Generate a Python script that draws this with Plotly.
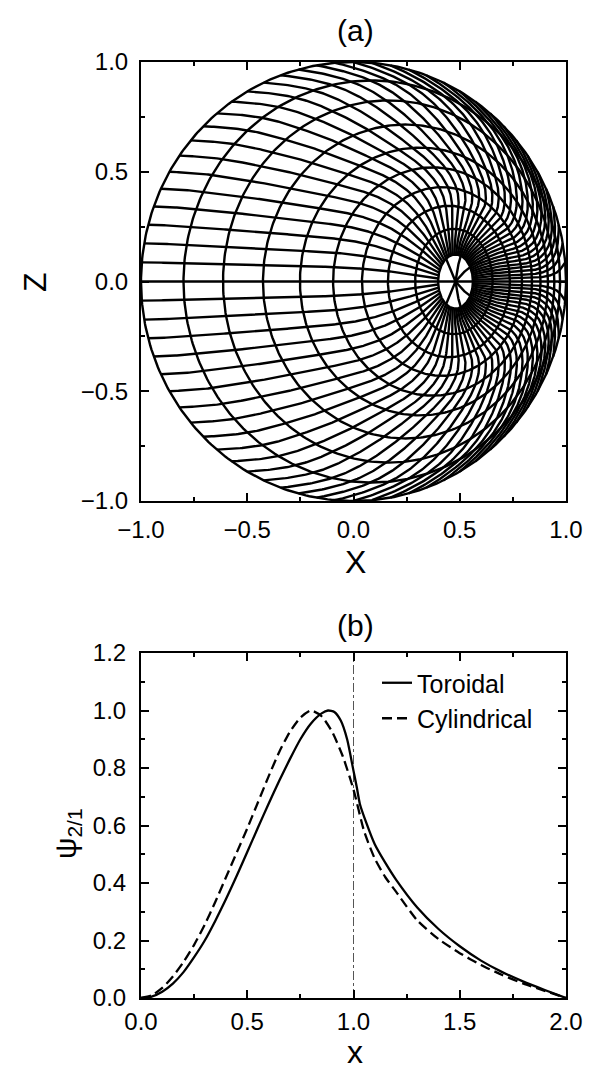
import numpy as np
import plotly.graph_objects as go

# ---------------- Panel (a): coordinate grid ----------------
# flux-surface label s (axis + 10 surfaces)
surface_label = [0.0, 0.1, 0.2, 0.3, 0.4, 0.5, 0.6, 0.7, 0.8, 0.9, 1.0]
# X where each surface crosses Z=0 on the inboard (left) and outboard (right) side
surface_left_X = [0.48, 0.398, 0.29, 0.162, 0.04, -0.096, -0.252, -0.426, -0.614, -0.80, -1.0]
surface_right_X = [0.48, 0.562, 0.655, 0.736, 0.793, 0.84, 0.88, 0.915, 0.945, 0.972, 1.0]
# half height of each surface
surface_top_Z = [0.0, 0.123, 0.24, 0.345, 0.43, 0.52, 0.61, 0.715, 0.825, 0.916, 1.0]
# poloidal-angle twist of each surface, inboard and outboard
twist_in = [0.2, 0.3, 0.45, 0.55, 0.55, 0.45, 0.32, 0.2, 0.1, 0.05, 0.0]
twist_out = [0.2, 0.3, 0.42, 0.52, 0.6, 0.64, 0.64, 0.6, 0.52, 0.34, 0.0]
# poloidal angles of the coordinate lines (deg)
theta_deg = list(range(0, 360, 5))
theta_to_axis_every = 45

# ---------------- Panel (b): eigenfunctions ----------------
x_tor = [0, 0.05, 0.1, 0.15, 0.2, 0.25, 0.3, 0.35, 0.4, 0.45, 0.5, 0.55, 0.6, 0.65,
         0.7, 0.75, 0.8, 0.85, 0.88, 0.91, 0.94, 0.97, 1.0, 1.015, 1.03, 1.06, 1.1,
         1.15, 1.2, 1.3, 1.4, 1.5, 1.6, 1.7, 1.8, 1.9, 2.0]
psi_tor = [0, 0.005, 0.022, 0.05, 0.09, 0.142, 0.2, 0.269, 0.344, 0.424, 0.508, 0.592,
           0.675, 0.755, 0.83, 0.9, 0.955, 0.99, 1.0, 0.995, 0.965, 0.9, 0.79, 0.735,
           0.675, 0.61, 0.535, 0.47, 0.412, 0.315, 0.24, 0.18, 0.13, 0.09, 0.057,
           0.028, 0.0]
x_cyl = [0, 0.05, 0.1, 0.15, 0.2, 0.25, 0.3, 0.35, 0.4, 0.45, 0.5, 0.55, 0.6, 0.65,
         0.7, 0.75, 0.8, 0.85, 0.9, 0.95, 1.0, 1.05, 1.1, 1.15, 1.2, 1.3, 1.4, 1.5,
         1.6, 1.7, 1.8, 1.9, 2.0]
psi_cyl = [0, 0.009, 0.035, 0.075, 0.125, 0.185, 0.255, 0.335, 0.42, 0.505, 0.59, 0.68,
           0.77, 0.855, 0.925, 0.975, 1.0, 0.98, 0.925, 0.84, 0.725, 0.58, 0.485, 0.42,
           0.37, 0.27, 0.205, 0.156, 0.115, 0.08, 0.05, 0.025, 0.0]
rational_x = 1.0

FONT = "Liberation Sans, Arial, Helvetica, sans-serif"


def natural_spline(xk, yk, xq):
    xk = np.asarray(xk, float)
    yk = np.asarray(yk, float)
    n = len(xk)
    h = np.diff(xk)
    A = np.zeros((n, n))
    rhs = np.zeros(n)
    A[0, 0] = 1.0
    A[-1, -1] = 1.0
    for i in range(1, n - 1):
        A[i, i - 1] = h[i - 1]
        A[i, i] = 2 * (h[i - 1] + h[i])
        A[i, i + 1] = h[i]
        rhs[i] = 3 * ((yk[i + 1] - yk[i]) / h[i] - (yk[i] - yk[i - 1]) / h[i - 1])
    c = np.linalg.solve(A, rhs)
    b = (yk[1:] - yk[:-1]) / h - h * (2 * c[:-1] + c[1:]) / 3
    d = (c[1:] - c[:-1]) / (3 * h)
    xq = np.asarray(xq, float)
    idx = np.clip(np.searchsorted(xk, xq) - 1, 0, n - 2)
    dx = xq - xk[idx]
    return yk[idx] + b[idx] * dx + c[idx] * dx ** 2 + d[idx] * dx ** 3


sl = np.array(surface_left_X)
sr = np.array(surface_right_X)
cen = (sl + sr) / 2
half_w = (sr - sl) / 2
half_h = np.array(surface_top_Z)


def geom(s, th):
    c = natural_spline(surface_label, cen, s)
    a = natural_spline(surface_label, half_w, s)
    b = natural_spline(surface_label, half_h, s)
    gi = natural_spline(surface_label, twist_in, s)
    go_ = natural_spline(surface_label, twist_out, s)
    g = gi * (1 - np.cos(th)) / 2 + go_ * (1 + np.cos(th)) / 2
    phi = th - g * np.sin(th)
    return c + a * np.cos(phi), b * np.sin(phi)


gx, gy = [], []
# flux surfaces
ph = np.linspace(0, 2 * np.pi, 361)
for k in range(1, len(surface_label)):
    gx += list(cen[k] + half_w[k] * np.cos(ph)) + [None]
    gy += list(half_h[k] * np.sin(ph)) + [None]
# poloidal-angle lines
for td in theta_deg:
    th = np.deg2rad(td)
    s0 = 0.0 if td % theta_to_axis_every == 0 else surface_label[1]
    s = np.linspace(s0, 1.0, 220)
    X, Z = geom(s, th)
    gx += list(X) + [None]
    gy += list(Z) + [None]

fig = go.Figure()
fig.add_trace(go.Scatter(x=gx, y=gy, mode="lines", line=dict(color="black", width=2.4),
                         showlegend=False, hoverinfo="skip", xaxis="x", yaxis="y"))

fig.add_trace(go.Scatter(x=x_tor, y=psi_tor, mode="lines", name="Toroidal",
                         line=dict(color="black", width=2.3, shape="spline", smoothing=0.6),
                         xaxis="x2", yaxis="y2"))
fig.add_trace(go.Scatter(x=x_cyl, y=psi_cyl, mode="lines", name="Cylindrical",
                         line=dict(color="black", width=2.3, dash="10px,5px", shape="spline", smoothing=0.6),
                         xaxis="x2", yaxis="y2"))

fig.add_shape(type="line", x0=rational_x, x1=rational_x, y0=0, y1=1.2, xref="x2", yref="y2",
              line=dict(color="#555555", width=1, dash="dashdot"), layer="below")

W, H = 595, 1070
xdom = [141 / W, 566 / W]
ya_dom = [1 - 501 / H, 1 - 62 / H]
yb_dom = [1 - 998 / H, 1 - 653 / H]

common = dict(showline=True, linecolor="black", linewidth=2, mirror="allticks",
              ticks="inside", ticklen=8, tickwidth=1.5, tickcolor="black",
              showgrid=False, zeroline=False, tickformat=".1f", automargin=False,
              tickfont=dict(family=FONT, size=24, color="black"))

fig.update_layout(
    width=W, height=H, margin=dict(l=0, r=0, t=0, b=0, pad=0, autoexpand=False),
    autosize=False,
    paper_bgcolor="white", plot_bgcolor="white",
    xaxis=dict(domain=xdom, anchor="y", range=[-1, 1], dtick=0.5, tick0=0,
               minor=dict(ticks="inside", ticklen=4, dtick=0.25, tickcolor="black", showgrid=False),
               ticklabelstandoff=6, **common),
    yaxis=dict(domain=ya_dom, anchor="x", range=[-1, 1], dtick=0.5, tick0=0,
               minor=dict(ticks="inside", ticklen=4, dtick=0.25, tickcolor="black", showgrid=False),
               ticklabelstandoff=6, **common),
    xaxis2=dict(domain=xdom, anchor="y2", range=[0, 2], dtick=0.5, tick0=0,
                minor=dict(ticks="inside", ticklen=4, dtick=0.25, tickcolor="black", showgrid=False),
                ticklabelstandoff=1, **common),
    yaxis2=dict(domain=yb_dom, anchor="x2", range=[0, 1.2], dtick=0.2, tick0=0,
                minor=dict(ticks="inside", ticklen=4, dtick=0.1, tickcolor="black", showgrid=False),
                ticklabelstandoff=8, **common),
    legend=dict(x=377 / W, y=1 - 660 / H, xanchor="left", yanchor="top",
                font=dict(family=FONT, size=25, color="black"), bgcolor="rgba(0,0,0,0)",
                borderwidth=0, itemwidth=30, tracegroupgap=0),
    font=dict(family=FONT, color="black"),
)


def label(text, px, py, size, angle=0):
    fig.add_annotation(text=text, x=px / W, y=1 - py / H, xref="paper", yref="paper",
                       showarrow=False, textangle=angle, xanchor="center", yanchor="middle",
                       font=dict(family=FONT, size=size, color="black"))


label("(a)", 355, 30, 30)
label("X", 355, 562, 32)
label("Z", 35, 282, 32, -90)
label("(b)", 355, 625, 30)
label("x", 355, 1052, 32)
label("ψ<sub>2/1</sub>", 67, 834, 30, -90)

fig.write_html("out.html")
